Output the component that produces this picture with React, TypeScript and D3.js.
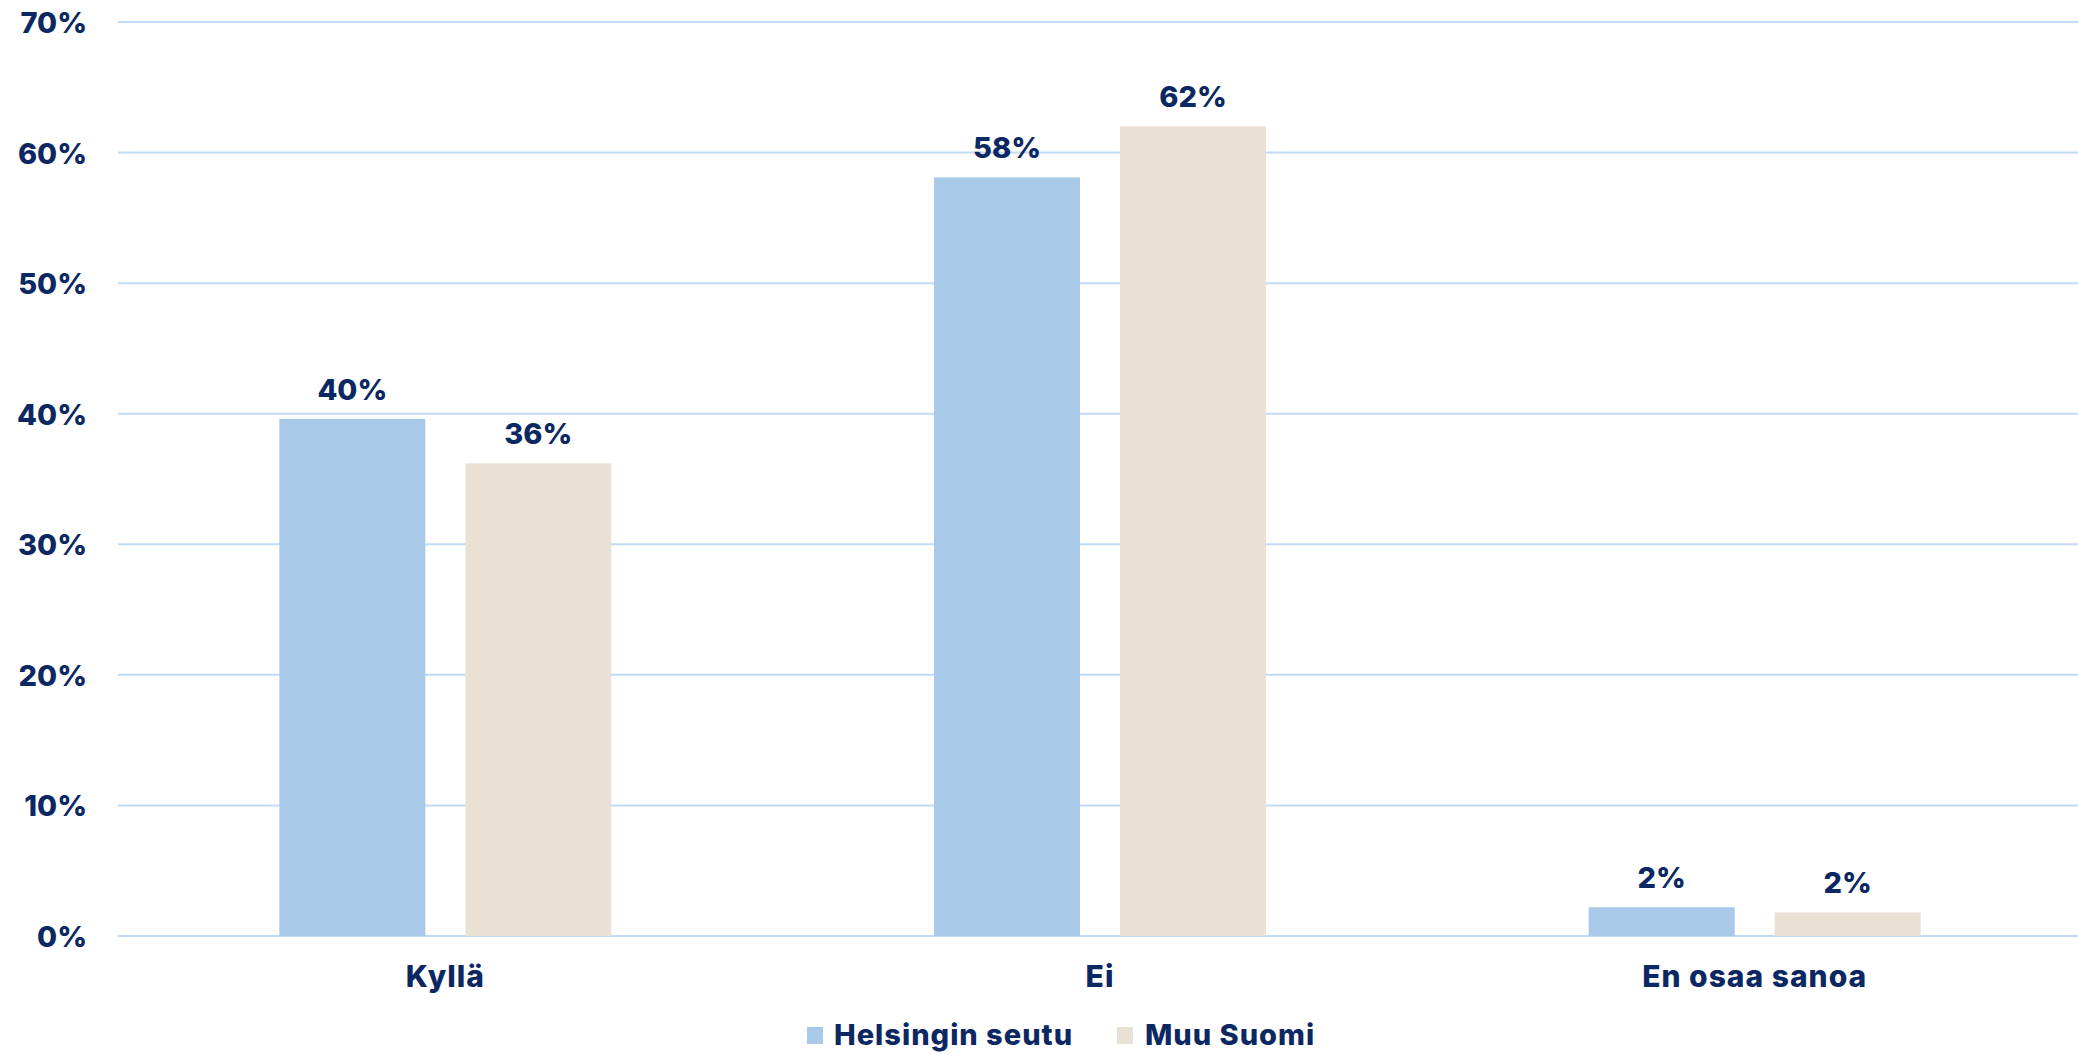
import React from "react";
import * as d3 from "d3";

const categories = ["Kyllä", "Ei", "En osaa sanoa"];
const seriesNames = ["Helsingin seutu", "Muu Suomi"];
const helsinkiValues = [39.6, 58.1, 2.2];
const muuSuomiValues = [36.2, 62.0, 1.8];
const helsinkiLabels = ["40%", "58%", "2%"];
const muuSuomiLabels = ["36%", "62%", "2%"];
const yTicks = [0, 10, 20, 30, 40, 50, 60, 70];

const W = 2078;
const H = 1055;
const NAVY = "#0b2862";
const COLORS = ["#a8c9e7", "#e8e1d4"];
const GRID = "#c2daf6";
const FONT = "Inter, 'Open Sans', sans-serif";

export default function App() {
  const left = 118;
  const right = 2078;
  const top = 22;
  const bottom = 936;

  const x = d3.scaleBand<string>().domain(categories).range([left, 2082]);
  const y = d3.scaleLinear().domain([0, 70]).range([bottom, top]);
  const barW = 146;
  const gap = 40;
  const inner = d3
    .scaleOrdinal<string, number>()
    .domain(seriesNames)
    .range([-(gap / 2) - barW, gap / 2]);

  const series = [
    { name: seriesNames[0], values: helsinkiValues, labels: helsinkiLabels, color: COLORS[0] },
    { name: seriesNames[1], values: muuSuomiValues, labels: muuSuomiLabels, color: COLORS[1] },
  ];

  return (
    <svg
      width={W}
      height={H}
      style={{ position: "absolute", left: 0, top: 0, background: "#fff" }}
      fontFamily={FONT}
    >
      {yTicks.map((t) => (
        <g key={t}>
          <line x1={left} x2={right} y1={y(t)} y2={y(t)} stroke={GRID} strokeWidth={2} />
          <text
            x={87}
            y={y(t) + 11}
            textAnchor="end"
            fontSize={29}
            fontWeight={800}
            fill={NAVY}
          >
            {t}%
          </text>
        </g>
      ))}
      {series.map((s) =>
        categories.map((c, i) => {
          const cx = (x(c) as number) + x.bandwidth() / 2;
          const bx = cx + (inner(s.name) as number);
          const by = y(s.values[i]);
          return (
            <g key={s.name + c}>
              <rect x={bx} y={by} width={barW} height={bottom - by} fill={s.color} />
              <text
                x={bx + barW / 2}
                y={by - 19}
                textAnchor="middle"
                fontSize={29}
                fontWeight={800}
                fill={NAVY}
              >
                {s.labels[i]}
              </text>
            </g>
          );
        })
      )}
      {categories.map((c) => (
        <text
          key={c}
          x={(x(c) as number) + x.bandwidth() / 2}
          y={987}
          textAnchor="middle"
          fontSize={30}
          fontWeight={800}
          letterSpacing={1}
          fill={NAVY}
        >
          {c}
        </text>
      ))}
      <g>
        <rect x={807} y={1027} width={16} height={17} fill={COLORS[0]} />
        <text x={834} y={1045} fontSize={29} fontWeight={800} letterSpacing={1} fill={NAVY}>
          {seriesNames[0]}
        </text>
        <rect x={1117} y={1027} width={16} height={17} fill={COLORS[1]} />
        <text x={1145} y={1045} fontSize={29} fontWeight={800} letterSpacing={1} fill={NAVY}>
          {seriesNames[1]}
        </text>
      </g>
    </svg>
  );
}
